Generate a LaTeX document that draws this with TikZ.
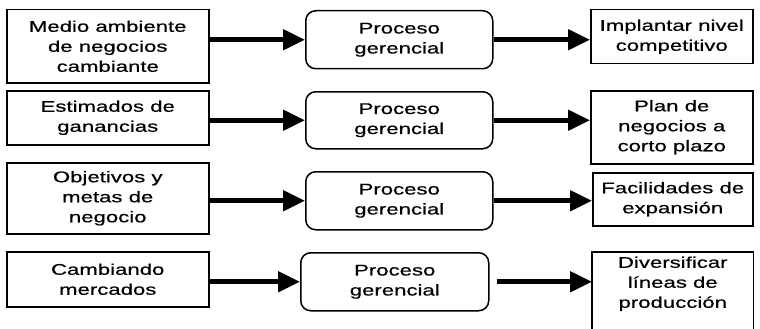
\documentclass[tikz,border=0pt]{standalone}
\usepackage{fontspec}
\setmainfont{Liberation Sans}[FakeStretch=1.43,FakeBold=0.5]
\usetikzlibrary{arrows.meta}

\begin{document}
\begin{tikzpicture}
[
    x = 1pt, y = -1pt,
    box/.style     = {draw,
                      line width=1.5pt,
                      inner sep=0pt,
                      anchor=north west,
                      align=center,
                      font=\fontsize{15.5}{20}\selectfont},
    inbox/.style   = {box,
                      minimum width=202pt},
    procbox/.style = {box,
                      rounded corners=10pt,
                      minimum width=187pt,
                      minimum height=58pt},
    outbox/.style  = {box,
                      minimum width=162pt},
    arr/.style     = {line width=4.8pt,
                      -{Triangle[length=22pt,width=20pt]}}
]

\useasboundingbox (0,0) rectangle (760,329);
\clip (0,0) rectangle (760,329);

% first row
\node (e1) [inbox, minimum height=73pt] at (6,9) {
Medio ambiente\\de negocios\\cambiante
};
\node (p1) [procbox] at (305,10) {
Proceso\\gerencial
};
\node (s1) [outbox, minimum height=54pt] at (590,9) {
Implantar nivel\\competitivo
};

\draw[arr] (p1.west -| e1.east) -- (p1.west);
\draw[arr] (p1.east) -- (p1.east -| s1.west);

% second row
\node (e2) [inbox, minimum height=54pt] at (6,90) {
Estimados de\\ganancias
};
\node (p2) [procbox, minimum height=57pt] at (305,91) {
Proceso\\gerencial
};
\node (s2) [outbox, minimum height=73pt] at (590,90) {
Plan de\\negocios a\\corto plazo
};

\draw[arr] (p2.west -| e2.east) -- (p2.west);
\draw[arr] (p2.east) -- (p2.east -| s2.west);

% third row
\node (e3) [inbox, minimum height=71pt] at (6,162) {
Objetivos y\\metas de\\negocio
};
\node (p3) [procbox] at (305,171) {
Proceso\\gerencial
};
\node (s3) [outbox, minimum width=160pt, minimum height=53pt] at (592,172) {
Facilidades de\\expansión
};

\draw[arr] (p3.west -| e3.east) -- (p3.west);
\draw[arr] (p3.east) -- (p3.east -| s3.west);

% fourth row, last box runs off the bottom
\node (e4) [inbox, minimum height=55pt] at (6,251) {
Cambiando\\mercados
};
\node (p4) [procbox, minimum width=188pt] at (300,252) {
Proceso\\gerencial
};
\node (s4) [outbox, draw=none, minimum width=160pt, minimum height=62pt] at (592,252) {
Diversificar\\líneas de\\producción
};
\draw[line width=1.5pt] ([yshift=-30pt]s4.south west) -- (s4.north west)
    -- (s4.north east) -- ([yshift=-30pt]s4.south east);

\draw[arr] (p4.west -| e4.east) -- (p4.west);
\draw[arr, shorten <=7pt] (p4.east) -- (p4.east -| s4.west);

\end{tikzpicture}
\end{document}
